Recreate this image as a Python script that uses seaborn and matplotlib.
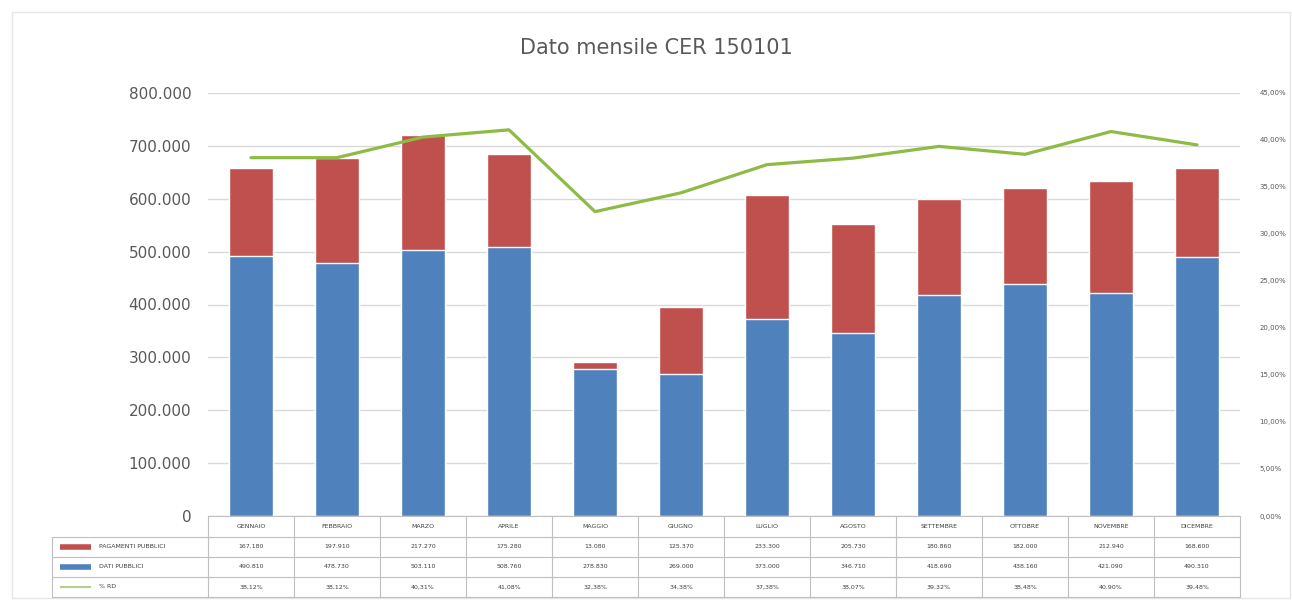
import numpy as np
import matplotlib
matplotlib.use('Agg')
import matplotlib.pyplot as plt
from matplotlib.lines import Line2D
from matplotlib.patches import Rectangle
import seaborn as sns

# Data
months = ['GENNAIO', 'FEBBRAIO', 'MARZO', 'APRILE', 'MAGGIO', 'GIUGNO',
          'LUGLIO', 'AGOSTO', 'SETTEMBRE', 'OTTOBRE', 'NOVEMBRE', 'DICEMBRE']
red_vals = [167180, 197910, 217270, 175280, 13080, 125370,
            233300, 205730, 180860, 182000, 212940, 168600]
blue_vals = [490810, 478730, 503110, 508760, 278830, 269000,
             373000, 346710, 418690, 438160, 421090, 490310]
pct_vals = [38.12, 38.12, 40.31, 41.08, 32.38, 34.38,
            37.38, 38.07, 39.32, 38.48, 40.90, 39.48]
red_name = 'PAGAMENTI PUBBLICI'
blue_name = 'DATI PUBBLICI'
line_name = '% RD'
title = 'Dato mensile CER 150101'

RED = '#C0504D'
BLUE = '#4F81BD'
GREEN = '#8DBB45'
GRID = '#D9D9D9'
TXT = '#595959'

sns.set_style('white')
plt.rcParams['font.family'] = ['DejaVu Sans']

W, H = 1292, 600
fig = plt.figure(figsize=(W / 100, H / 100), dpi=100)


def fx(x):
    return x / W


def fy(y):
    return 1 - y / H


left, right, top, bottom = 208, 1240, 93, 516
ax = fig.add_axes([fx(left), fy(bottom), fx(right - left), fy(top) - fy(bottom)])

# stacked bars: total in red, blue drawn over it
totals = [r + b for r, b in zip(red_vals, blue_vals)]
sns.barplot(x=months, y=totals, color=RED, saturation=1, width=0.52, ax=ax, zorder=2)
sns.barplot(x=months, y=blue_vals, color=BLUE, saturation=1, width=0.52, ax=ax, zorder=3)

ax.set_ylim(0, 800000)
ax.set_yticks(np.arange(0, 800001, 100000))
ax.set_yticklabels([f'{int(v):,}'.replace(',', '.') for v in np.arange(0, 800001, 100000)],
                   fontsize=11, color=TXT)
ax.tick_params(axis='y', length=0, pad=12)
ax.set_xticks([])
ax.set_xlabel('')
ax.set_ylabel('')
ax.grid(axis='y', color=GRID, lw=1, zorder=0)
ax.set_axisbelow(True)
for s in ax.spines.values():
    s.set_visible(False)

ax2 = ax.twinx()
sns.lineplot(x=np.arange(12), y=pct_vals, color=GREEN, lw=2.3, ax=ax2, zorder=4)
ax2.set_ylim(0, 45)
ax2.set_yticks(np.arange(0, 46, 5))
ax2.set_yticklabels([f'{v:.2f}%'.replace('.', ',') for v in np.arange(0, 46, 5)],
                    fontsize=5, color=TXT)
ax2.tick_params(axis='y', length=0, pad=14)
for s in ax2.spines.values():
    s.set_visible(False)
ax.set_xlim(-0.5, 11.5)

fig.text(0.508, fy(48), title, ha='center', va='center', fontsize=15, color=TXT)

# data table below the plot
col_w = (right - left) / 12
rows_y = [516, 537, 557, 577, 597]
border = '#BFBFBF'


def hline(x0, x1, y):
    fig.add_artist(Line2D([fx(x0), fx(x1)], [fy(y), fy(y)], transform=fig.transFigure,
                          color=border, lw=0.8))


def vline(x, y0, y1):
    fig.add_artist(Line2D([fx(x), fx(x)], [fy(y0), fy(y1)], transform=fig.transFigure,
                          color=border, lw=0.8))


hline(left, right, rows_y[0])
for y in rows_y[1:]:
    hline(52, right, y)
vline(52, rows_y[1], rows_y[4])
for i in range(13):
    vline(left + col_w * i, rows_y[0], rows_y[4])

for i, m in enumerate(months):
    cx = left + col_w * (i + 0.5)
    fig.text(fx(cx), fy((rows_y[0] + rows_y[1]) / 2), m, ha='center', va='center',
             fontsize=4.5, color='#404040')
    fig.text(fx(cx), fy((rows_y[1] + rows_y[2]) / 2), f'{red_vals[i]:,}'.replace(',', '.'),
             ha='center', va='center', fontsize=4.5, color='#404040')
    fig.text(fx(cx), fy((rows_y[2] + rows_y[3]) / 2), f'{blue_vals[i]:,}'.replace(',', '.'),
             ha='center', va='center', fontsize=4.5, color='#404040')
    fig.text(fx(cx), fy((rows_y[3] + rows_y[4]) / 2), f'{pct_vals[i]:.2f}%'.replace('.', ','),
             ha='center', va='center', fontsize=4.5, color='#404040')

legend_rows = [(red_name, RED, 4), (blue_name, BLUE, 4), (line_name, '#B5CF8B', 1.5)]
for k, (name, col, lw) in enumerate(legend_rows):
    yc = (rows_y[k + 1] + rows_y[k + 2]) / 2
    fig.add_artist(Line2D([fx(60), fx(91)], [fy(yc), fy(yc)], transform=fig.transFigure,
                          color=col, lw=lw, solid_capstyle='butt'))
    fig.text(fx(99), fy(yc), name, ha='left', va='center', fontsize=4.5, color='#404040')

# light frame around the chart
fig.add_artist(Rectangle((fx(12), fy(598)), fx(1278), fy(12) - fy(598), transform=fig.transFigure,
                         fill=False, edgecolor='#E6E6E6', lw=1))

fig.savefig('out.png', dpi=100)
